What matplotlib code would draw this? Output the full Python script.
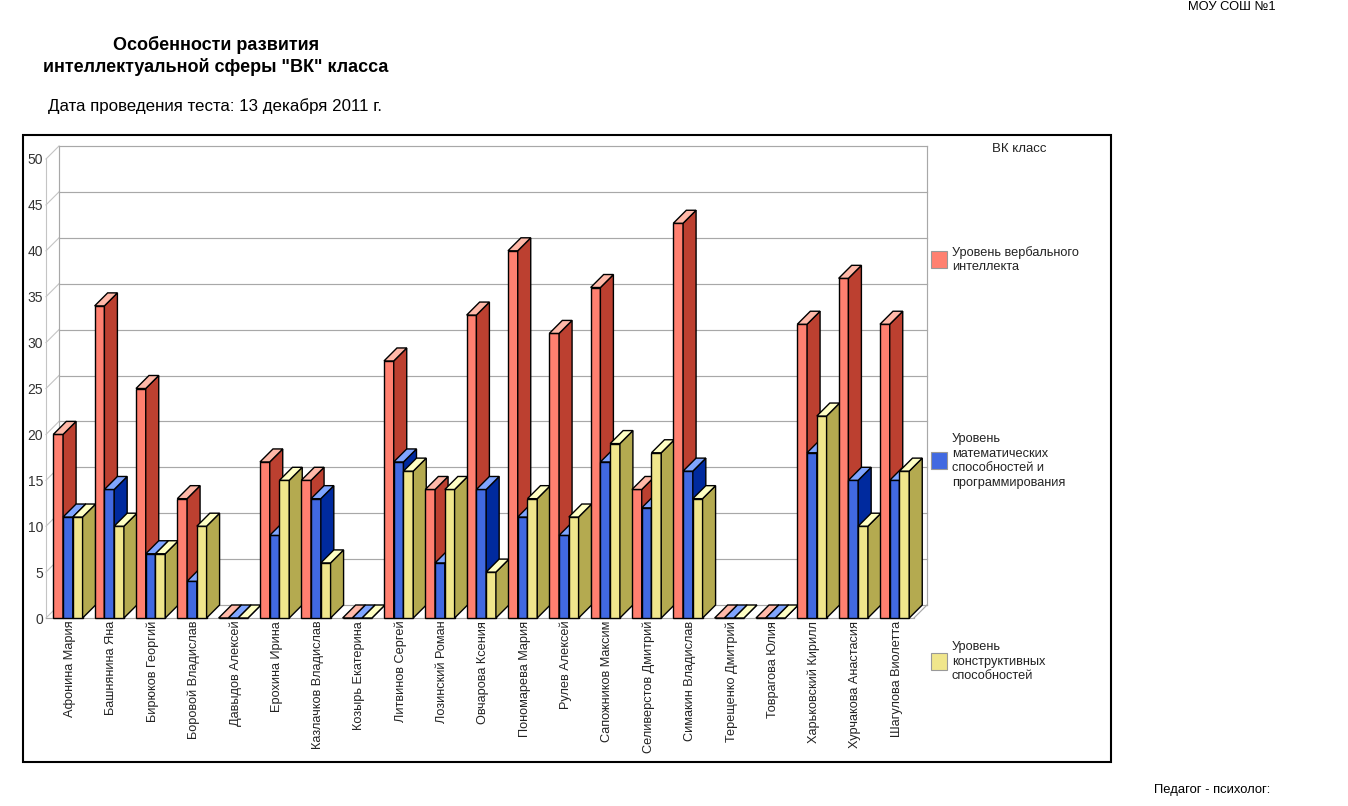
import matplotlib
matplotlib.use('Agg')
import matplotlib.pyplot as plt
from matplotlib.patches import Polygon, Rectangle
from matplotlib.transforms import ScaledTranslation

plt.rcParams['font.family'] = ['Liberation Sans', 'DejaVu Sans']

names = ['Афонина Мария', 'Башнянина Яна', 'Бирюков Георгий', 'Боровой Владислав',
         'Давыдов Алексей', 'Ерохина Ирина', 'Казлачков Владислав', 'Козырь Екатерина',
         'Литвинов Сергей', 'Лозинский Роман', 'Овчарова Ксения', 'Пономарева Мария',
         'Рулев Алексей', 'Сапожников Максим', 'Селиверстов Дмитрий', 'Симакин Владислав',
         'Терещенко Дмитрий', 'Товрагова Юлия', 'Харьковский Кирилл', 'Хурчакова Анастасия',
         'Шагулова Виолетта']
verbal = [20, 34, 25, 13, 0, 17, 15, 0, 28, 14, 33, 40, 31, 36, 14, 43, 0, 0, 32, 37, 32]
math_prog = [11, 14, 7, 4, 0, 9, 13, 0, 17, 6, 14, 11, 9, 17, 12, 16, 0, 0, 18, 15, 15]
constr = [11, 10, 7, 10, 0, 15, 6, 0, 16, 14, 5, 13, 11, 19, 18, 13, 0, 0, 22, 10, 16]
y_ticks = [0, 5, 10, 15, 20, 25, 30, 35, 40, 45, 50]

W, H = 1348, 806
fig = plt.figure(figsize=(W / 100, H / 100), dpi=100, facecolor='white')

def fx(px):
    return px / W

def fy(py):
    return 1 - py / H

# plot area = front plane of the pseudo 3d box
ax = fig.add_axes([fx(46), fy(618), fx(868), 459 / H])
ax.set_xlim(0, len(names))
ax.set_ylim(0, 50)
ax.set_frame_on(False)

dx = 13 / 41.33
dy = 13 / 9.18
grid_c = '#a8a8a8'
n = len(names)

# walls and grid
for v in y_ticks:
    ax.plot([0, dx], [v, v + dy], color='#c4c4c4', lw=0.8, clip_on=False, zorder=1)
    ax.plot([dx, n + dx], [v + dy, v + dy], color=grid_c, lw=0.85, clip_on=False, zorder=1)
ax.plot([0, 0], [0, 50], color='#c4c4c4', lw=0.8, clip_on=False, zorder=1)
ax.plot([dx, dx], [dy, 50 + dy], color=grid_c, lw=0.85, clip_on=False, zorder=1)
ax.plot([n + dx, n + dx], [dy, 50 + dy], color=grid_c, lw=0.85, clip_on=False, zorder=1)
ax.plot([0, n], [0, 0], color=grid_c, lw=0.85, clip_on=False, zorder=1)
ax.plot([n, n + dx], [0, dy], color=grid_c, lw=0.85, clip_on=False, zorder=1)

series = [(verbal, '#ff8070', '#bc4030', '#ffb8a8'),
          (math_prog, '#4169e1', '#002a9e', '#7fa5ff'),
          (constr, '#f0e68c', '#b4aa50', '#ffffc4')]
start = 0.177
bw = 0.236

z = 2
for i in range(n):
    for k, (vals, front, side, top) in enumerate(series):
        v = vals[i]
        x0 = i + start + k * bw
        x1 = x0 + bw
        faces = [([(x0, 0), (x1, 0), (x1, v), (x0, v)], front),
                 ([(x1, 0), (x1 + dx, dy), (x1 + dx, v + dy), (x1, v)], side),
                 ([(x0, v), (x1, v), (x1 + dx, v + dy), (x0 + dx, v + dy)], top)]
        for pts, c in faces:
            ax.add_patch(Polygon(pts, closed=True, facecolor=c, edgecolor='black',
                                 lw=1.0, clip_on=False, zorder=z, joinstyle='miter'))
        z += 1

ax.set_yticks(y_ticks)
ax.set_xticks([i + 0.5 for i in range(n)])
ax.set_xticklabels(names, rotation=90, fontsize=9.2, color='#222222', ha='center', va='top')
ax.tick_params(axis='x', length=0, pad=2)
ax.tick_params(axis='y', length=0, pad=2.2, labelsize=10, labelcolor='#333333')
shift = ScaledTranslation(3.5 / 100, 0, fig.dpi_scale_trans)
for lab in ax.get_xticklabels():
    lab.set_transform(lab.get_transform() + shift)

# outer frame
fig.add_artist(Rectangle((fx(23), fy(762)), fx(1088), 627 / H, transform=fig.transFigure,
                         facecolor='none', edgecolor='black', lw=1.5, zorder=0))

# legend
legend_items = [(251, 'Уровень вербального\nинтеллекта', '#ff8070', 259.5),
                (452, 'Уровень\nматематических\nспособностей и\nпрограммирования', '#4169e1', 461),
                (653, 'Уровень\nконструктивных\nспособностей', '#f0e68c', 661.5)]
for top_y, txt, c, mid in legend_items:
    fig.add_artist(Rectangle((fx(931), fy(top_y + 17)), fx(16), 17 / H, transform=fig.transFigure,
                             facecolor=c, edgecolor='#999999', lw=0.8))
    fig.text(fx(952), fy(mid), txt, fontsize=9.2, color='#222222', ha='left', va='center',
             linespacing=1.3)

# page texts
fig.text(fx(1019), fy(149), 'ВК класс', fontsize=9.5, color='#222222', ha='center', va='center')
fig.text(fx(216), fy(56), 'Особенности развития\nинтеллектуальной сферы "ВК" класса', fontsize=13.0,
         fontweight='bold', ha='center', va='center', linespacing=1.32)
fig.text(fx(48), fy(106.5), 'Дата проведения теста: 13 декабря 2011 г.', fontsize=12.15,
         ha='left', va='center')
fig.text(fx(1232), fy(7.5), 'МОУ СОШ №1', fontsize=9.3, ha='center', va='center')
fig.text(fx(1154), fy(790.5), 'Педагог - психолог:', fontsize=9.4, ha='left', va='center')

fig.savefig('out.png', dpi=100)
